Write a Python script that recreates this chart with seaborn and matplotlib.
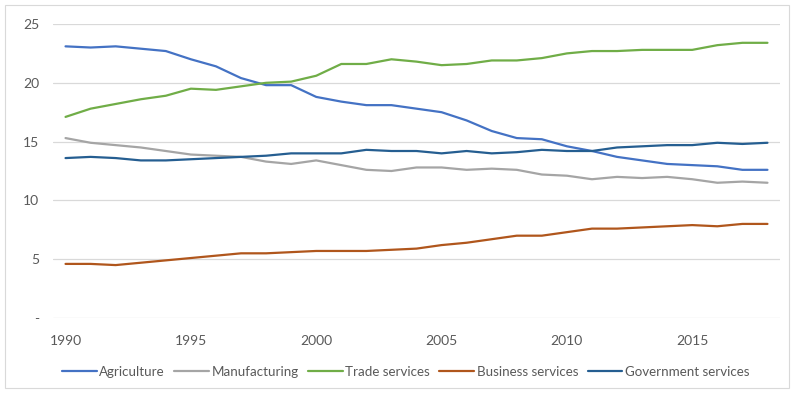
import matplotlib
matplotlib.use("Agg")
import matplotlib.pyplot as plt
import seaborn as sns
import pandas as pd
from matplotlib.patches import Rectangle

years = list(range(1990, 2019))
agriculture = [23.1, 23.0, 23.1, 22.9, 22.7, 22.0, 21.4, 20.4, 19.8, 19.8,
               18.8, 18.4, 18.1, 18.1, 17.8, 17.5, 16.8, 15.9, 15.3, 15.2,
               14.6, 14.2, 13.7, 13.4, 13.1, 13.0, 12.9, 12.6, 12.6]
manufacturing = [15.3, 14.9, 14.7, 14.5, 14.2, 13.9, 13.8, 13.7, 13.3, 13.1,
                 13.4, 13.0, 12.6, 12.5, 12.8, 12.8, 12.6, 12.7, 12.6, 12.2,
                 12.1, 11.8, 12.0, 11.9, 12.0, 11.8, 11.5, 11.6, 11.5]
trade = [17.1, 17.8, 18.2, 18.6, 18.9, 19.5, 19.4, 19.7, 20.0, 20.1,
         20.6, 21.6, 21.6, 22.0, 21.8, 21.5, 21.6, 21.9, 21.9, 22.1,
         22.5, 22.7, 22.7, 22.8, 22.8, 22.8, 23.2, 23.4, 23.4]
business = [4.6, 4.6, 4.5, 4.7, 4.9, 5.1, 5.3, 5.5, 5.5, 5.6,
            5.7, 5.7, 5.7, 5.8, 5.9, 6.2, 6.4, 6.7, 7.0, 7.0,
            7.3, 7.6, 7.6, 7.7, 7.8, 7.9, 7.8, 8.0, 8.0]
government = [13.6, 13.7, 13.6, 13.4, 13.4, 13.5, 13.6, 13.7, 13.8, 14.0,
              14.0, 14.0, 14.3, 14.2, 14.2, 14.0, 14.2, 14.0, 14.1, 14.3,
              14.2, 14.2, 14.5, 14.6, 14.7, 14.7, 14.9, 14.8, 14.9]

series_names = ["Agriculture", "Manufacturing", "Trade services",
                "Business services", "Government services"]
series_values = [agriculture, manufacturing, trade, business, government]
colors = ["#4472C4", "#A5A5A5", "#70AD47", "#B0561C", "#255E91"]

x_ticks = [1990, 1995, 2000, 2005, 2010, 2015]
y_ticks = [0, 5, 10, 15, 20, 25]
y_labels = ["-", "5", "10", "15", "20", "25"]

rows = []
for name, vals in zip(series_names, series_values):
    for y, v in zip(years, vals):
        rows.append({"Year": y, "Value": v, "Series": name})
df = pd.DataFrame(rows)

sns.set_theme(style="white")
plt.rcParams["font.family"] = ["Lato", "DejaVu Sans"]

fig = plt.figure(figsize=(7.94, 3.93), dpi=100)
ax = fig.add_axes([53 / 794, 1 - 318 / 393, 727 / 794, 294 / 393])

sns.lineplot(data=df, x="Year", y="Value", hue="Series",
             hue_order=series_names, palette=colors, linewidth=1.6,
             ax=ax, legend=False)

ax.set_xlim(1989.5, 2018.5)
ax.set_ylim(0, 25)
ax.set_xticks(x_ticks)
ax.set_xticklabels([str(t) for t in x_ticks])
ax.set_yticks(y_ticks)
ax.set_yticklabels(y_labels)
ax.set_xlabel("")
ax.set_ylabel("")
ax.grid(axis="y", color="#D9D9D9", linewidth=0.9)
ax.set_axisbelow(True)
for s in ax.spines.values():
    s.set_visible(False)
ax.tick_params(axis="both", length=0, labelsize=10, colors="#595959")
ax.tick_params(axis="x", pad=12)
ax.tick_params(axis="y", pad=10)

handles = [plt.Line2D([], [], color=c, linewidth=1.6) for c in colors]
fig.legend(handles, series_names, loc="center", ncol=5,
           bbox_to_anchor=(0.511, 1 - 372 / 393), frameon=False,
           fontsize=9.6, labelcolor="#595959", handlelength=2.6,
           handletextpad=0.2, columnspacing=0.7)

fig.patches.append(Rectangle((5 / 794, 5 / 393), 784 / 794, 383 / 393,
                             transform=fig.transFigure, fill=False,
                             edgecolor="#D9D9D9", linewidth=0.8))

fig.savefig("out.png", dpi=100, facecolor="white")
